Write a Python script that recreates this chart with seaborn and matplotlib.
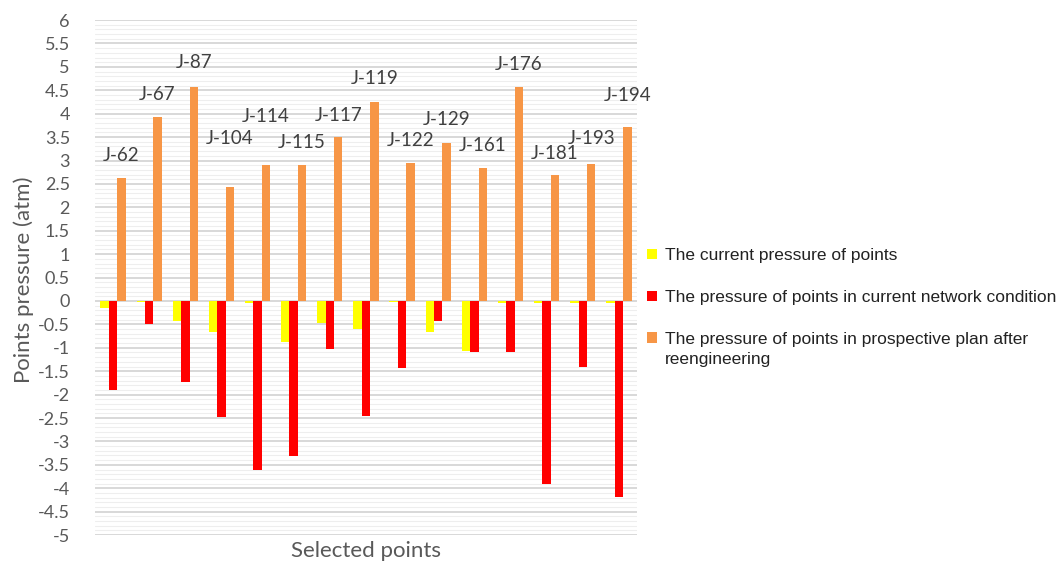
import seaborn as sns
import pandas as pd
import matplotlib.pyplot as plt
from matplotlib.ticker import MultipleLocator, FormatStrFormatter

points = ['J-62', 'J-67', 'J-87', 'J-104', 'J-114', 'J-115', 'J-117', 'J-119',
          'J-122', 'J-129', 'J-161', 'J-176', 'J-181', 'J-193', 'J-194']

current = [-0.15, -0.03, -0.42, -0.67, -0.05, -0.87, -0.47, -0.60,
           -0.03, -0.67, -1.07, -0.05, -0.04, -0.04, -0.05]
network = [-1.90, -0.49, -1.73, -2.48, -3.61, -3.31, -1.03, -2.46,
           -1.44, -0.43, -1.10, -1.10, -3.91, -1.42, -4.18]
prospective = [2.63, 3.93, 4.57, 2.44, 2.90, 2.90, 3.50, 4.25,
               2.95, 3.38, 2.85, 4.56, 2.68, 2.93, 3.72]

# heights at which the point names sit (dragged by hand in the original)
label_y = [3.10, 4.42, 5.09, 3.48, 3.93, 3.38, 3.97, 4.76,
           3.42, 3.87, 3.33, 5.06, 3.14, 3.46, 4.38]

series = ['The current pressure of points',
          'The pressure of points in current network condition',
          'The pressure of points in prospective plan after']
colors = ['#FFFF00', '#FF0000', '#F79646']

df = pd.DataFrame({
    'point': points * 3,
    'pressure': current + network + prospective,
    'series': [series[0]] * 15 + [series[1]] * 15 + [series[2]] * 15,
})

sns.set_style('white')
plt.rcParams['font.family'] = ['Lato', 'DejaVu Sans']
plt.rcParams['axes.unicode_minus'] = False

fig = plt.figure(figsize=(10.6, 5.65), dpi=100)
ax = fig.add_axes([0.0896, 0.053, 0.5113, 0.9115])

sns.barplot(data=df, x='point', y='pressure', hue='series', hue_order=series,
            palette=colors, saturation=1, width=0.7, linewidth=0,
            edgecolor='none', ax=ax)

ax.set_ylim(-5, 6)
ax.yaxis.set_major_locator(MultipleLocator(0.5))
ax.yaxis.set_minor_locator(MultipleLocator(0.1))
ax.yaxis.set_major_formatter(FormatStrFormatter('%g'))
ax.grid(which='major', axis='y', color='#d6d6d6', linewidth=1.3)
ax.grid(which='minor', axis='y', color='#eeeeee', linewidth=0.8)
ax.set_axisbelow(True)
for s in ax.spines.values():
    s.set_visible(False)
ax.set_xticks([])
ax.tick_params(axis='y', which='both', length=0, pad=18, labelsize=13,
               labelcolor='#595959')

ax.set_xlabel('Selected points', fontsize=16, color='#595959', labelpad=4)
ax.set_ylabel('Points pressure (atm)', fontsize=16, color='#595959')
ax.yaxis.set_label_coords(-0.113, 0.495)

# point names above the orange bars
for bar, name, ly in zip(ax.containers[2], points, label_y):
    ax.text(bar.get_x() + bar.get_width() / 2, ly, name, ha='center',
            va='center', fontsize=13.5, color='#404040')

sns.move_legend(ax, 'upper left', bbox_to_anchor=(647 / 1060, 1 - 248 / 565),
                bbox_transform=fig.transFigure, frameon=False, title=None,
                prop={'family': 'Liberation Sans', 'size': 12.5},
                handlelength=0.55, handleheight=0.55, handletextpad=0.5,
                labelspacing=1.55, borderpad=0, borderaxespad=0)
leg = ax.get_legend()
for t in leg.get_texts():
    t.set_color('#222222')

# second line of the last legend entry
fig.canvas.draw()
bb = leg.get_texts()[2].get_window_extent()
x0, y0 = fig.transFigure.inverted().transform((bb.x0, bb.y0))
fig.text(x0, y0 - 5 / 565, 'reengineering', va='top', ha='left',
         family='Liberation Sans', fontsize=12.5, color='#222222')

plt.savefig('out.png', dpi=100)
